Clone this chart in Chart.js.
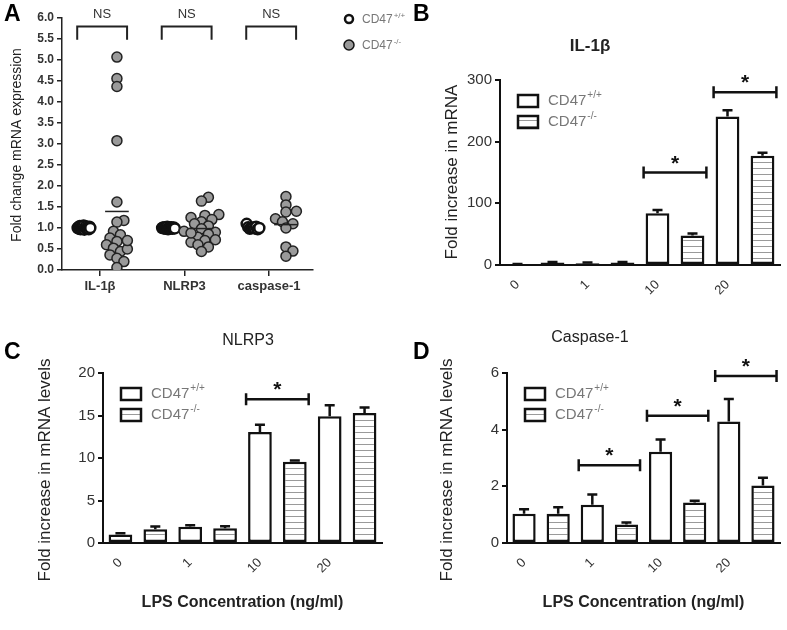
<!DOCTYPE html>
<html>
<head>
<meta charset="utf-8">
<script src="https://cdn.jsdelivr.net/npm/chart.js@4.4.1/dist/chart.umd.min.js"></script>
<style>
body { margin: 0; background: #fff; }
#wrap { position: relative; width: 787px; height: 630px; overflow: hidden; }
#wrap canvas { position: absolute; left: 0; top: 0; }
.letter { position: absolute; font: bold 23px Arial, "Liberation Sans", sans-serif; color: #000; }
</style>
</head>
<body>
<div id="wrap">
  <canvas id="panelA" width="787" height="630"></canvas>
  <canvas id="panelB" width="787" height="630"></canvas>
  <canvas id="panelC" width="787" height="630"></canvas>
  <canvas id="panelD" width="787" height="630"></canvas>
  <div class="letter" style="left:4px;top:0px">A</div>
  <div class="letter" style="left:413px;top:0px">B</div>
  <div class="letter" style="left:4px;top:338px">C</div>
  <div class="letter" style="left:413px;top:338px">D</div>
</div>
<script>
// Panel A - fold change per animal
var genesA = ['IL-1β', 'NLRP3', 'caspase-1'];
var wtIL1b = [1.0, 1.02, 0.98, 1.05, 0.97, 1.03, 1.0, 0.99, 1.06, 0.96, 1.01, 1.04, 0.98, 1.0, 1.02, 0.97, 1.03, 1.0];
var koIL1b = [5.07, 4.56, 4.37, 3.08, 1.62, 1.18, 1.14, 0.92, 0.84, 0.76, 0.68, 0.6, 0.52, 0.44, 0.36, 0.28, 0.2, 0.06, 0.5, 0.7];
var wtNLRP3 = [1.0, 1.01, 0.99, 1.02, 0.98, 1.0, 1.03, 0.97, 1.0, 1.01, 0.99, 1.02, 0.98, 1.0, 1.01, 0.99];
var koNLRP3 = [1.73, 1.64, 1.32, 1.3, 1.25, 1.2, 1.15, 1.1, 1.05, 0.98, 0.92, 0.9, 0.85, 0.78, 0.72, 0.7, 0.66, 0.6, 0.55, 0.44, 0.88];
var wtCasp1 = [1.1, 1.02, 0.98, 1.0, 1.01, 0.99, 1.03, 0.97, 1.0];
var koCasp1 = [1.75, 1.55, 1.4, 1.38, 1.22, 1.15, 1.1, 1.0, 0.55, 0.45, 0.33];

// Panels B-D - LPS dose response (mean and SEM)
var lpsDoses = ['0', '1', '10', '20'];
var il1bWT = [1, 3, 84, 241];
var il1bWTerr = [0.5, 1, 5, 10];
var il1bKO = [4, 4, 48, 177];
var il1bKOerr = [1, 1, 3, 5];
var nlrp3WT = [1.0, 1.9, 13.05, 14.9];
var nlrp3WTerr = [0.15, 0.2, 0.85, 1.3];
var nlrp3KO = [1.62, 1.73, 9.55, 15.3];
var nlrp3KOerr = [0.33, 0.25, 0.15, 0.65];
var casp1WT = [1.03, 1.35, 3.22, 4.29];
var casp1WTerr = [0.16, 0.36, 0.43, 0.79];
var casp1KO = [1.03, 0.65, 1.43, 2.03];
var casp1KOerr = [0.23, 0.07, 0.06, 0.27];

var FONT = 'Arial, "Liberation Sans", sans-serif';
var INK = '#222';

function layoutFor(area, yw, xh) {
  return {
    autoPadding: false,
    padding: { left: area.left - yw, top: area.top, right: 787 - area.right, bottom: 630 - area.bottom - xh }
  };
}

function cd47Label(ctx, x, y, sup, size, color) {
  ctx.fillStyle = color;
  ctx.font = size + 'px ' + FONT;
  ctx.textAlign = 'left';
  ctx.textBaseline = 'middle';
  ctx.fillText('CD47', x, y);
  var w = ctx.measureText('CD47').width;
  ctx.font = Math.round(size * 0.65) + 'px ' + FONT;
  ctx.fillText(sup, x + w + 1, y - size * 0.38);
}

function verticalText(ctx, text, x, y, font) {
  ctx.save();
  ctx.translate(x, y);
  ctx.rotate(-Math.PI / 2);
  ctx.font = font;
  ctx.fillStyle = INK;
  ctx.textAlign = 'center';
  ctx.textBaseline = 'middle';
  ctx.fillText(text, 0, 0);
  ctx.restore();
}

// simple beeswarm so the knockout dots sit side by side (overlap allowed)
function swarm(vals, center) {
  var placed = [], out = new Array(vals.length);
  var order = vals.map(function(v, i) { return i; }).sort(function(a, b) { return vals[a] - vals[b]; });
  order.forEach(function(i) {
    var y = vals[i] * 42;
    for (var k = 0; k < 40; k++) {
      var dx = (k === 0 ? 0 : (k % 2 ? 1 : -1) * Math.ceil(k / 2)) * 3.5;
      var ok = placed.every(function(p) {
        var a = p[0] - dx, b = p[1] - y;
        return a * a + b * b >= 50;
      });
      if (ok) { placed.push([dx, y]); out[i] = { x: center + dx / 85, y: vals[i] }; break; }
    }
  });
  return out;
}

function packed(vals, center) {
  return vals.map(function(v, i) {
    return { x: center + (i / (vals.length - 1) - 0.5) * 0.15, y: v };
  });
}

var wtGroups = [wtIL1b, wtNLRP3, wtCasp1];
var koGroups = [koIL1b, koNLRP3, koCasp1];
var wtPoints = [], koPoints = [];
wtGroups.forEach(function(g, i) { wtPoints = wtPoints.concat(packed(g, i - 0.19)); });
koGroups.forEach(function(g, i) { koPoints = koPoints.concat(swarm(g, i + 0.2)); });

var areaA = { left: 62, top: 18, right: 313, bottom: 270 };

var panelAExtras = {
  id: 'panelAExtras',
  afterDatasetsDraw: function(chart) {
    var ctx = chart.ctx, xs = chart.scales.x, ys = chart.scales.y;
    ctx.save();
    // mean lines of the knockout groups
    ctx.strokeStyle = INK;
    ctx.lineWidth = 1.5;
    koGroups.forEach(function(g, i) {
      var m = g.reduce(function(a, b) { return a + b; }, 0) / g.length;
      var y = ys.getPixelForValue(m);
      ctx.beginPath();
      ctx.moveTo(xs.getPixelForValue(i + 0.06), y);
      ctx.lineTo(xs.getPixelForValue(i + 0.34), y);
      ctx.stroke();
    });
    // NS brackets
    genesA.forEach(function(g, i) {
      var l = xs.getPixelForValue(i - 0.27), r = xs.getPixelForValue(i + 0.32);
      var yt = ys.getPixelForValue(5.8), yb = ys.getPixelForValue(5.48);
      ctx.lineWidth = 2;
      ctx.beginPath();
      ctx.moveTo(l, yb); ctx.lineTo(l, yt); ctx.lineTo(r, yt); ctx.lineTo(r, yb);
      ctx.stroke();
      ctx.fillStyle = '#333';
      ctx.font = '13px ' + FONT;
      ctx.textAlign = 'center';
      ctx.textBaseline = 'alphabetic';
      ctx.fillText('NS', (l + r) / 2, yt - 8);
    });
    // legend
    ctx.lineWidth = 2.5;
    ctx.strokeStyle = '#111';
    ctx.fillStyle = '#fff';
    ctx.beginPath(); ctx.arc(349, 19, 4, 0, Math.PI * 2); ctx.fill(); ctx.stroke();
    ctx.lineWidth = 1.5;
    ctx.fillStyle = '#999';
    ctx.beginPath(); ctx.arc(349, 45, 5, 0, Math.PI * 2); ctx.fill(); ctx.stroke();
    cd47Label(ctx, 362, 20, '+/+', 12, '#777');
    cd47Label(ctx, 362, 46, '-/-', 12, '#777');
    verticalText(ctx, 'Fold change mRNA expression', 17, 145, '14px ' + FONT);
    ctx.restore();
  }
};

new Chart(document.getElementById('panelA'), {
  type: 'scatter',
  data: {
    datasets: [
      { label: 'CD47-/-', data: koPoints, pointRadius: 5, pointHoverRadius: 5, backgroundColor: '#9a9a9a', borderColor: '#222', borderWidth: 1.5 },
      { label: 'CD47+/+', data: wtPoints, pointRadius: 5, pointHoverRadius: 5, backgroundColor: '#fff', borderColor: '#111', borderWidth: 2.5 }
    ]
  },
  options: {
    responsive: false,
    animation: false,
    events: [],
    layout: layoutFor(areaA, 45, 30),
    plugins: { legend: { display: false }, tooltip: { enabled: false } },
    scales: {
      x: {
        type: 'linear', min: -0.45, max: 2.52,
        afterBuildTicks: function(s) { s.ticks = [{ value: 0 }, { value: 1 }, { value: 2 }]; },
        ticks: {
          autoSkip: false, maxRotation: 0, padding: 3, color: '#333',
          font: { family: FONT, size: 13, weight: 'bold' },
          callback: function(v) { return genesA[v]; }
        },
        grid: { drawOnChartArea: false, tickLength: 6, color: INK, lineWidth: 1.5 },
        border: { color: INK, width: 1.5 },
        afterFit: function(s) { s.height = 30; s.paddingLeft = 0; s.paddingRight = 0; }
      },
      y: {
        min: 0, max: 6,
        ticks: {
          stepSize: 0.5, padding: 3, color: '#333',
          font: { family: FONT, size: 12, weight: 'bold' },
          callback: function(v) { return v.toFixed(1); }
        },
        grid: { drawOnChartArea: false, tickLength: 5, color: INK, lineWidth: 1.5 },
        border: { color: INK, width: 1.5 },
        afterFit: function(s) { s.width = 45; s.paddingTop = 0; s.paddingBottom = 0; }
      }
    }
  },
  plugins: [panelAExtras]
});

function hatchPattern() {
  var c = document.createElement('canvas');
  c.width = 4; c.height = 6;
  var g = c.getContext('2d');
  g.fillStyle = '#fff'; g.fillRect(0, 0, 4, 6);
  g.fillStyle = '#9a9a9a'; g.fillRect(0, 0, 4, 1);
  return g.createPattern(c, 'repeat');
}
var hatch = hatchPattern();

function barChart(id, cfg) {
  var labels = [], wtData = [], koData = [];
  lpsDoses.forEach(function(d, i) {
    labels.push(d, '');
    wtData.push(cfg.wt[i], null);
    koData.push(null, cfg.ko[i]);
  });
  var errs = [[], []];
  lpsDoses.forEach(function(d, i) {
    errs[0].push(cfg.wtErr[i], null);
    errs[1].push(null, cfg.koErr[i]);
  });

  var extras = {
    id: 'extras' + id,
    afterDatasetsDraw: function(chart) {
      var ctx = chart.ctx, ys = chart.scales.y, area = chart.chartArea;
      ctx.save();
      ctx.strokeStyle = '#111';
      ctx.lineWidth = 2.5;
      // SEM whiskers
      [0, 1].forEach(function(d) {
        var meta = chart.getDatasetMeta(d);
        var vals = chart.data.datasets[d].data;
        meta.data.forEach(function(bar, j) {
          if (vals[j] == null) return;
          var top = ys.getPixelForValue(vals[j] + errs[d][j]);
          ctx.beginPath();
          ctx.moveTo(bar.x, bar.y); ctx.lineTo(bar.x, top);
          ctx.moveTo(bar.x - 5, top); ctx.lineTo(bar.x + 5, top);
          ctx.stroke();
        });
      });
      // significance brackets
      var wtMeta = chart.getDatasetMeta(0), koMeta = chart.getDatasetMeta(1);
      cfg.sigGroups.forEach(function(g, k) {
        var a = wtMeta.data[2 * g], b = koMeta.data[2 * g + 1];
        var l = a.x - a.width / 2 - 2, r = b.x + b.width / 2 + 2;
        var y = ys.getPixelForValue(cfg.sigLevels[k]);
        ctx.lineWidth = 2.5;
        ctx.beginPath();
        ctx.moveTo(l, y); ctx.lineTo(r, y);
        ctx.moveTo(l, y - 6); ctx.lineTo(l, y + 6);
        ctx.moveTo(r, y - 6); ctx.lineTo(r, y + 6);
        ctx.stroke();
        ctx.fillStyle = '#111';
        ctx.font = 'bold 21px ' + FONT;
        ctx.textAlign = 'center';
        ctx.textBaseline = 'alphabetic';
        ctx.fillText('*', (l + r) / 2, y - 3);
      });
      // legend
      var lx = area.left + 18, ly1 = area.top + 21, ly2 = area.top + 42;
      ctx.lineWidth = 2.5;
      ctx.fillStyle = '#fff';
      ctx.fillRect(lx, ly1 - 6, 20, 12); ctx.strokeRect(lx, ly1 - 6, 20, 12);
      ctx.fillStyle = hatch;
      ctx.fillRect(lx, ly2 - 6, 20, 12); ctx.strokeRect(lx, ly2 - 6, 20, 12);
      cd47Label(ctx, lx + 30, ly1, '+/+', 15, '#777');
      cd47Label(ctx, lx + 30, ly2, '-/-', 15, '#777');
      // titles
      ctx.fillStyle = INK;
      ctx.textAlign = 'center';
      ctx.textBaseline = 'middle';
      ctx.font = cfg.titleFont + ' ' + FONT;
      ctx.fillText(cfg.title, cfg.titleX, cfg.titleY);
      verticalText(ctx, cfg.yTitle, cfg.yTitleX, cfg.yTitleY, '17px ' + FONT);
      if (cfg.xTitle) {
        ctx.fillStyle = INK;
        ctx.font = 'bold 16px ' + FONT;
        ctx.textAlign = 'center';
        ctx.textBaseline = 'middle';
        ctx.fillText(cfg.xTitle, (area.left + area.right) / 2, cfg.xTitleY);
      }
      ctx.restore();
    }
  };

  new Chart(document.getElementById(id), {
    type: 'bar',
    data: {
      labels: labels,
      datasets: [
        { label: 'CD47+/+', data: wtData, backgroundColor: '#fff', borderColor: '#111', borderWidth: 2.5, borderSkipped: false, grouped: false, barPercentage: 0.68, categoryPercentage: 1 },
        { label: 'CD47-/-', data: koData, backgroundColor: hatch, borderColor: '#111', borderWidth: 2.5, borderSkipped: false, grouped: false, barPercentage: 0.68, categoryPercentage: 1 }
      ]
    },
    options: {
      responsive: false,
      animation: false,
      events: [],
      layout: layoutFor(cfg.area, 45, 40),
      plugins: { legend: { display: false }, tooltip: { enabled: false } },
      scales: {
        x: {
          offset: true,
          grid: { display: false },
          border: { color: '#111', width: 2 },
          ticks: { autoSkip: false, minRotation: 45, maxRotation: 45, padding: 4, color: '#333', font: { family: FONT, size: 13 } },
          afterFit: function(s) { s.height = 40; s.paddingLeft = 0; s.paddingRight = 0; }
        },
        y: {
          min: 0, max: cfg.yMax,
          ticks: { stepSize: cfg.yStep, padding: 3, color: '#333', font: { family: FONT, size: 15 } },
          grid: { drawOnChartArea: false, tickLength: 5, color: '#111', lineWidth: 2 },
          border: { color: '#111', width: 2 },
          afterFit: function(s) { s.width = 45; s.paddingTop = 0; s.paddingBottom = 0; }
        }
      }
    },
    plugins: [extras]
  });
}

barChart('panelB', {
  area: { left: 500, top: 80, right: 780, bottom: 265 },
  wt: il1bWT, wtErr: il1bWTerr, ko: il1bKO, koErr: il1bKOerr,
  yMax: 300, yStep: 100,
  sigGroups: [2, 3], sigLevels: [150, 280],
  title: 'IL-1β', titleFont: 'bold 17px', titleX: 590, titleY: 46,
  yTitle: 'Fold increase in mRNA', yTitleX: 452, yTitleY: 172
});

barChart('panelC', {
  area: { left: 103, top: 373, right: 382, bottom: 543 },
  wt: nlrp3WT, wtErr: nlrp3WTerr, ko: nlrp3KO, koErr: nlrp3KOerr,
  yMax: 20, yStep: 5,
  sigGroups: [2], sigLevels: [16.9],
  title: 'NLRP3', titleFont: '16px', titleX: 248, titleY: 341,
  yTitle: 'Fold increase in mRNA levels', yTitleX: 45, yTitleY: 470,
  xTitle: 'LPS Concentration (ng/ml)', xTitleY: 603
});

barChart('panelD', {
  area: { left: 507, top: 373, right: 780, bottom: 543 },
  wt: casp1WT, wtErr: casp1WTerr, ko: casp1KO, koErr: casp1KOerr,
  yMax: 6, yStep: 2,
  sigGroups: [1, 2, 3], sigLevels: [2.74, 4.49, 5.89],
  title: 'Caspase-1', titleFont: '16px', titleX: 590, titleY: 338,
  yTitle: 'Fold increase in mRNA levels', yTitleX: 447, yTitleY: 470,
  xTitle: 'LPS Concentration (ng/ml)', xTitleY: 603
});
</script>
</body>
</html>
